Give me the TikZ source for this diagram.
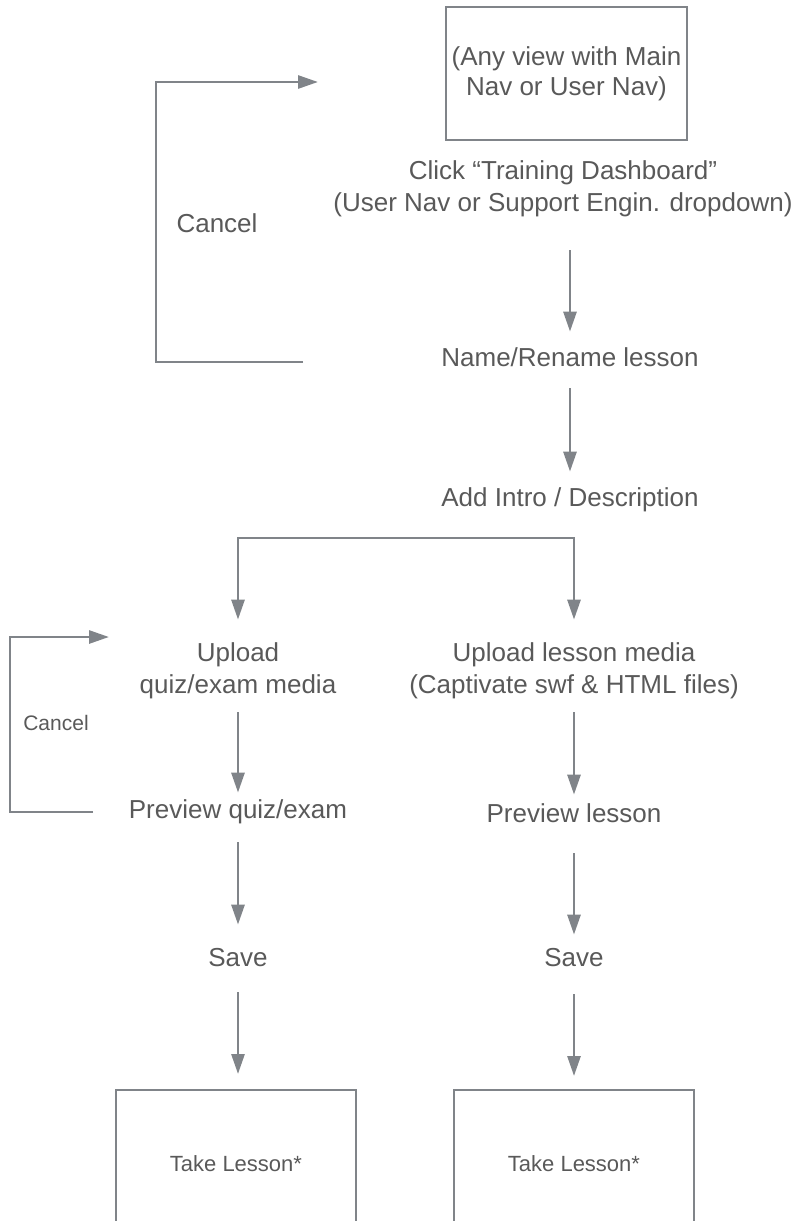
\documentclass[tikz,border=0pt]{standalone}
\usepackage{fontspec}
\setmainfont{Liberation Sans}
\usetikzlibrary{arrows.meta}

\definecolor{linegray}{RGB}{128,132,137}  % connector and frame grey
\definecolor{textgray}{RGB}{89,89,89}     % label grey

\begin{document}
\begin{tikzpicture}[x=0.5pt, y=-0.5pt,
  lbl/.style={text=textgray, font=\fontsize{13}{16}\selectfont, align=center, inner sep=0pt, minimum height=15pt},
  lbltwo/.style={lbl, minimum height=35pt},
  box/.style={draw=linegray, line width=1pt, text=textgray, align=center, inner sep=0pt},
  arr/.style={draw=linegray, line width=1.4pt, -{Triangle[length=10pt,width=6.5pt]}}]

%─────────────
% Page frame
%─────────────
\path[use as bounding box] (0,0) rectangle (799,1221);
\clip (0,0) rectangle (799,1221);

%─────────────
% Top of the flow
%─────────────
\node[box, minimum width=120.5pt, minimum height=66.5pt, font=\fontsize{13}{15}\selectfont]
  (view) at (566.5,73.5) {(Any view with Main\\Nav or User Nav)};
\node[lbltwo] (click) at (563,189) {Click “Training Dashboard”\\(User Nav or Support Engin. dropdown)};
\node[lbl] (name)  at (570,357) {Name/Rename lesson};
\node[lbl] (intro) at (570,500) {Add Intro / Description};

\draw[arr, shorten <=13pt, shorten >=5pt] (click.south -| name) -- (name);
\draw[arr, shorten <=8pt, shorten >=6.5pt] (name) -- (intro);

% Cancel loop back to the start
\node[lbl] (cancel) at (217,223) {Cancel};
\coordinate (loopa) at (303,362);
\coordinate (loopb) at (318,82);
\draw[arr] (loopa) -- ++(-147,0) |- (loopb);

%─────────────
% Two branches
%─────────────
\node[lbltwo] (upquiz)   at (238,671) {Upload\\quiz/exam media};
\node[lbltwo] (uplesson) at (574,671) {Upload lesson media\\(Captivate swf \& HTML files)};
\node[lbl] (prevquiz)    at (238,812) {Preview quiz/exam};
\node[lbl] (prevlesson)  at (574,813) {Preview lesson};
\node[lbl] (savequiz)    at (238,958) {Save};
\node[lbl] (savelesson)  at (574,958) {Save};

\coordinate (split) at (574,538);
\draw[arr, {Triangle[length=10pt,width=6.5pt]}-{Triangle[length=10pt,width=6.5pt]}, shorten <=8pt, shorten >=8pt]
  (upquiz) |- (split) -- (uplesson);

\draw[arr, shorten <=3pt, shorten >=2pt]    (upquiz) -- (prevquiz);
\draw[arr, shorten <=3pt, shorten >=1.5pt]  (uplesson) -- (prevlesson);
\draw[arr, shorten <=7.5pt, shorten >=9pt]  (prevquiz) -- (savequiz);
\draw[arr, shorten <=12.5pt, shorten >=4pt] (prevlesson) -- (savelesson);

% Cancel loop on the quiz side
\node[lbl, font=\fontsize{10.5}{12}\selectfont] (cancelquiz) at (56,723) {Cancel};
\coordinate (loopc) at (93,812);
\coordinate (loopd) at (109,637);
\draw[arr] (loopc) -- ++(-83,0) |- (loopd);

%─────────────
% End boxes (cut by the page edge)
%─────────────
\node[box, minimum width=120pt, minimum height=74pt, font=\fontsize{11}{13}\selectfont]
  (takequiz) at (236,1164) {Take Lesson*};
\node[box, minimum width=120pt, minimum height=74pt, font=\fontsize{11}{13}\selectfont]
  (takelesson) at (574,1164) {Take Lesson*};

\draw[arr, shorten <=9.5pt, shorten >=7.5pt]  (savequiz) -- (takequiz.north -| savequiz);
\draw[arr, shorten <=10.5pt, shorten >=6.5pt] (savelesson) -- (takelesson);

\end{tikzpicture}
\end{document}
